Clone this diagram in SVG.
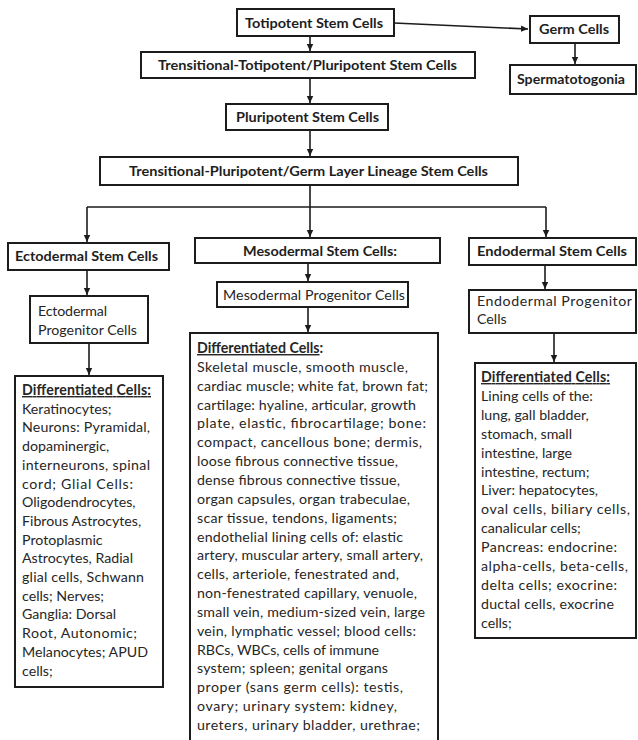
<svg xmlns="http://www.w3.org/2000/svg" width="638" height="740" viewBox="0 0 638 740">
<style>
.box{fill:#fff;stroke:#1c1c1c;stroke-width:2}
.h{font-family:Lato,"Liberation Sans",sans-serif;font-weight:bold;font-size:14px;fill:#1e1e1e}
.t{font-family:Lato,"Liberation Sans",sans-serif;font-size:14.2px;fill:#262626}
.u{text-decoration:underline;font-weight:bold}
.c{fill:none;stroke:#1c1c1c;stroke-width:1.6}
</style>
<defs>
<marker id="ah" markerWidth="8" markerHeight="8" refX="7" refY="4" orient="auto" markerUnits="userSpaceOnUse">
<path d="M0,0.8 L7,4 L0,7.2 Z" fill="#1c1c1c"/>
</marker>
</defs>
<rect width="638" height="740" fill="#fff"/>

<g id="connectors">
<path class="c" d="M394,23 L528,29" marker-end="url(#ah)"/>
<path class="c" d="M575,43 L575,64" marker-end="url(#ah)"/>
<path class="c" d="M310,36 L310,51" marker-end="url(#ah)"/>
<path class="c" d="M310,78 L310,103" marker-end="url(#ah)"/>
<path class="c" d="M310,130 L310,156" marker-end="url(#ah)"/>
<path class="c" d="M310,185 L310,207 M87,207 L546,207"/>
<path class="c" d="M87,207 L87,242" marker-end="url(#ah)"/>
<path class="c" d="M310,207 L310,237" marker-end="url(#ah)"/>
<path class="c" d="M546,207 L546,237" marker-end="url(#ah)"/>
<path class="c" d="M87,270 L87,295" marker-end="url(#ah)"/>
<path class="c" d="M89,343 L89,375" marker-end="url(#ah)"/>
<path class="c" d="M308,263 L308,281" marker-end="url(#ah)"/>
<path class="c" d="M308,307 L308,332" marker-end="url(#ah)"/>
<path class="c" d="M545,265 L545,289" marker-end="url(#ah)"/>
<path class="c" d="M554,333 L554,362" marker-end="url(#ah)"/>
</g>

<g id="totipotent">
<rect class="box" x="237" y="9" width="157" height="27"/>
<text class="h" x="245" y="28" textLength="138" lengthAdjust="spacingAndGlyphs">Totipotent Stem Cells</text>
</g>
<g id="germ-cells">
<rect class="box" x="530" y="16" width="89" height="27"/>
<text class="h" x="539" y="34" textLength="70" lengthAdjust="spacingAndGlyphs">Germ Cells</text>
</g>
<g id="spermatotogonia">
<rect class="box" x="510" y="65" width="126" height="29"/>
<text class="h" x="517" y="84" textLength="108" lengthAdjust="spacingAndGlyphs">Spermatotogonia</text>
</g>
<g id="transitional-toti">
<rect class="box" x="141" y="52" width="334" height="26"/>
<text class="h" x="158" y="70" textLength="299" lengthAdjust="spacingAndGlyphs">Trensitional-Totipotent/Pluripotent  Stem Cells</text>
</g>
<g id="pluripotent">
<rect class="box" x="226" y="104" width="162" height="26"/>
<text class="h" x="236" y="122" textLength="143" lengthAdjust="spacingAndGlyphs">Pluripotent Stem Cells</text>
</g>
<g id="transitional-pluri">
<rect class="box" x="100" y="157" width="418" height="28"/>
<text class="h" x="129" y="176" textLength="359" lengthAdjust="spacingAndGlyphs">Trensitional-Pluripotent/Germ  Layer Lineage Stem Cells</text>
</g>

<g id="ectodermal-stem">
<rect class="box" x="8" y="243" width="161" height="27"/>
<text class="h" x="15" y="261" textLength="143" lengthAdjust="spacingAndGlyphs">Ectodermal  Stem Cells</text>
</g>
<g id="ectodermal-progenitor">
<rect class="box" x="30" y="296" width="118" height="47"/>
<text class="t" x="38" y="316" textLength="69">Ectodermal</text>
<text class="t" x="38" y="335" textLength="99">Progenitor Cells</text>
</g>
<g id="ectodermal-differentiated">
<rect class="box" x="15" y="376" width="148" height="311"/>
<text class="t" x="22" y="395"><tspan class="u" textLength="129">Differentiated Cells:</tspan></text>
<text class="t" x="22" y="413.7">Keratinocytes;</text>
<text class="t" x="22" y="432.4" textLength="128">Neurons: Pyramidal,</text>
<text class="t" x="22" y="451.1">dopaminergic,</text>
<text class="t" x="22" y="469.8" textLength="128">interneurons, spinal</text>
<text class="t" x="22" y="488.5" textLength="111">cord; Glial Cells:</text>
<text class="t" x="22" y="507.2">Oligodendrocytes,</text>
<text class="t" x="22" y="525.9">Fibrous  Astrocytes,</text>
<text class="t" x="22" y="544.6">Protoplasmic</text>
<text class="t" x="22" y="563.3" textLength="111">Astrocytes, Radial</text>
<text class="t" x="22" y="582" textLength="122">glial  cells, Schwann</text>
<text class="t" x="22" y="600.7">cells; Nerves;</text>
<text class="t" x="22" y="619.4">Ganglia:  Dorsal</text>
<text class="t" x="22" y="638.1" textLength="115">Root, Autonomic;</text>
<text class="t" x="22" y="656.8" textLength="126">Melanocytes;  APUD</text>
<text class="t" x="22" y="675.5">cells;</text>
</g>

<g id="mesodermal-stem">
<rect class="box" x="195" y="238" width="245" height="25"/>
<text class="h" x="243" y="256" textLength="154" lengthAdjust="spacingAndGlyphs">Mesodermal Stem Cells:</text>
</g>
<g id="mesodermal-progenitor">
<rect class="box" x="217" y="282" width="191" height="25"/>
<text class="t" x="223" y="300" textLength="182">Mesodermal  Progenitor  Cells</text>
</g>
<g id="mesodermal-differentiated">
<rect class="box" x="190" y="333" width="248" height="420"/>
<text class="t" x="197" y="353"><tspan class="u">Differentiated Cells</tspan><tspan font-weight="bold">:</tspan></text>
<text class="t" x="197" y="371.85" textLength="211">Skeletal  muscle,  smooth muscle,</text>
<text class="t" x="197" y="390.7" textLength="231">cardiac muscle; white  fat, brown fat;</text>
<text class="t" x="197" y="409.55" textLength="219">cartilage:  hyaline, articular, growth</text>
<text class="t" x="197" y="428.4" textLength="229">plate, elastic, fibrocartilage;  bone:</text>
<text class="t" x="197" y="447.25" textLength="225">compact, cancellous bone; dermis,</text>
<text class="t" x="197" y="466.1" textLength="201">loose fibrous connective tissue,</text>
<text class="t" x="197" y="484.95" textLength="203">dense fibrous connective tissue,</text>
<text class="t" x="197" y="503.8" textLength="213">organ capsules, organ trabeculae,</text>
<text class="t" x="197" y="522.65" textLength="200">scar tissue, tendons, ligaments;</text>
<text class="t" x="197" y="541.5" textLength="206">endothelial lining cells of: elastic</text>
<text class="t" x="197" y="560.35" textLength="226">artery,  muscular artery, small artery,</text>
<text class="t" x="197" y="579.2" textLength="202">cells, arteriole,  fenestrated  and,</text>
<text class="t" x="197" y="598.05" textLength="220">non-fenestrated capillary,  venuole,</text>
<text class="t" x="197" y="616.9" textLength="228">small vein, medium-sized  vein, large</text>
<text class="t" x="197" y="635.75" textLength="219">vein, lymphatic  vessel; blood cells:</text>
<text class="t" x="197" y="654.6" textLength="182">RBCs, WBCs, cells of immune</text>
<text class="t" x="197" y="673.45" textLength="191">system; spleen;  genital organs</text>
<text class="t" x="197" y="692.3" textLength="206">proper (sans germ cells): testis,</text>
<text class="t" x="197" y="711.15" textLength="200">ovary;  urinary system: kidney,</text>
<text class="t" x="197" y="730" textLength="223">ureters,  urinary bladder,  urethrae;</text>
</g>

<g id="endodermal-stem">
<rect class="box" x="469" y="238" width="167" height="27"/>
<text class="h" x="477" y="256" textLength="150" lengthAdjust="spacingAndGlyphs">Endodermal  Stem Cells</text>
</g>
<g id="endodermal-progenitor">
<rect class="box" x="469" y="290" width="167" height="43"/>
<text class="t" x="477" y="306" textLength="155">Endodermal  Progenitor</text>
<text class="t" x="477" y="324">Cells</text>
</g>
<g id="endodermal-differentiated">
<rect class="box" x="475" y="363" width="161" height="275"/>
<text class="t" x="481" y="382"><tspan class="u" textLength="129">Differentiated Cells:</tspan></text>
<text class="t" x="481" y="400.9">Lining cells of the:</text>
<text class="t" x="481" y="419.8">lung, gall bladder,</text>
<text class="t" x="481" y="438.7">stomach, small</text>
<text class="t" x="481" y="457.6">intestine, large</text>
<text class="t" x="481" y="476.5">intestine, rectum;</text>
<text class="t" x="481" y="495.4">Liver: hepatocytes,</text>
<text class="t" x="481" y="514.3" textLength="149">oval cells, biliary cells,</text>
<text class="t" x="481" y="533.2">canalicular  cells;</text>
<text class="t" x="481" y="552.1" textLength="136">Pancreas: endocrine:</text>
<text class="t" x="481" y="571" textLength="147">alpha-cells, beta-cells,</text>
<text class="t" x="481" y="589.9" textLength="136">delta cells; exocrine:</text>
<text class="t" x="481" y="608.8" textLength="133">ductal cells, exocrine</text>
<text class="t" x="481" y="627.7">cells;</text>
</g>
</svg>
